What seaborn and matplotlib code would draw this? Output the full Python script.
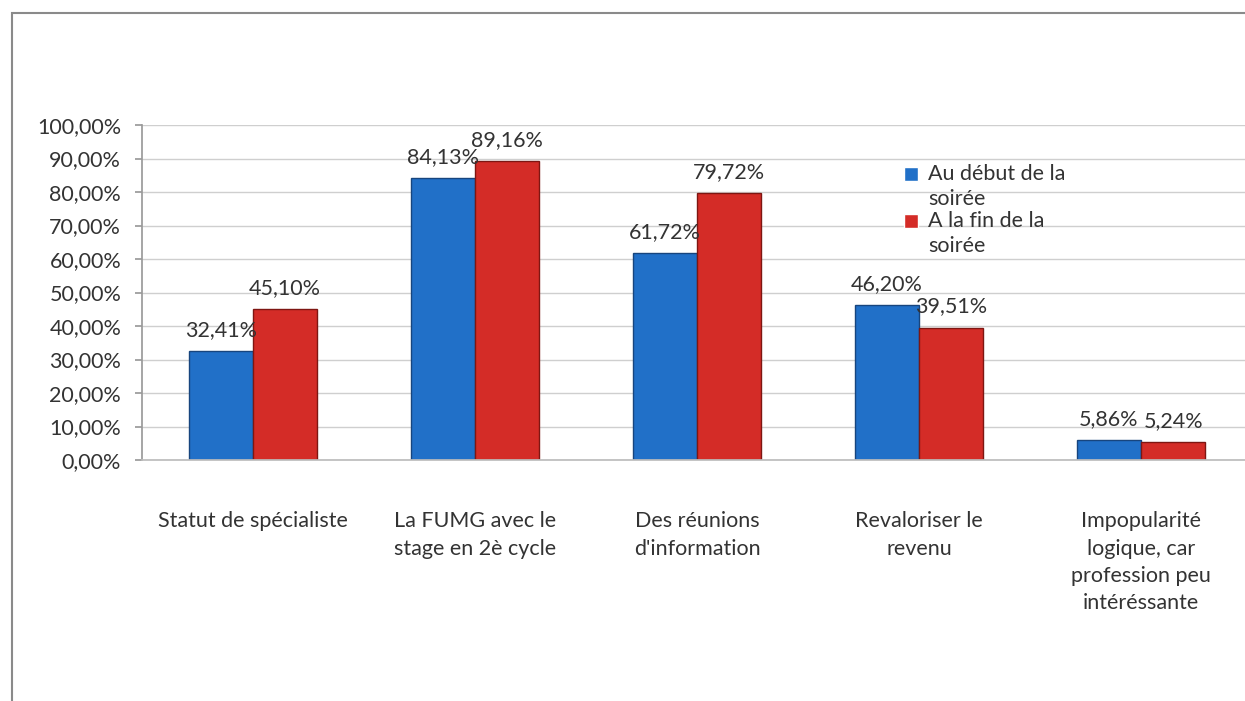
import matplotlib
matplotlib.use("Agg")
import matplotlib.pyplot as plt
import seaborn as sns
import pandas as pd
from matplotlib.patches import Rectangle
from matplotlib.legend_handler import HandlerPatch
from matplotlib.ticker import FuncFormatter, MultipleLocator

categories = [
    "Statut de spécialiste",
    "La FUMG avec le\nstage en 2è cycle",
    "Des réunions\nd'information",
    "Revaloriser le\nrevenu",
    "Impopularité\nlogique, car\nprofession peu\nintéréssante",
]
series_names = ["Au début de la\nsoirée", "A la fin de la\nsoirée"]
debut = [32.41, 84.13, 61.72, 46.20, 5.86]
fin = [45.10, 89.16, 79.72, 39.51, 5.24]

df = pd.DataFrame({
    "cat": categories * 2,
    "serie": [series_names[0]] * 5 + [series_names[1]] * 5,
    "val": debut + fin,
})

sns.set_theme(style="white")
plt.rcParams["font.family"] = ["Lato", "DejaVu Sans"]
FS = 15.5
TXT = "#333333"

fig = plt.figure(figsize=(12.45, 7.01), dpi=100)
ax = fig.add_axes([142 / 1245, 1 - 460 / 701, (1252 - 142) / 1245, 335 / 701])

colors = ["#2170c8", "#d42c27"]
sns.barplot(data=df, x="cat", y="val", hue="serie", palette=colors,
            width=0.58, saturation=1, ax=ax, legend=True)

edge = ["#17457e", "#7e1612"]
for i, cont in enumerate(ax.containers):
    for p in cont:
        p.set_edgecolor(edge[i])
        p.set_linewidth(1.0)
    ax.bar_label(cont, labels=[f"{v:.2f}%".replace(".", ",") for v in cont.datavalues],
                 padding=8, fontsize=FS, color=TXT)

ax.set_ylim(0, 100)
ax.yaxis.set_major_locator(MultipleLocator(10))
ax.yaxis.set_major_formatter(FuncFormatter(lambda v, _: f"{v:.2f}%".replace(".", ",")))
ax.set_xlim(-0.5, 4.5)
ax.grid(axis="y", color="#cfcfcf", linewidth=1)
ax.set_axisbelow(True)
for s in ["top", "right"]:
    ax.spines[s].set_visible(False)
ax.spines["left"].set_color("#9a9a9a")
ax.spines["bottom"].set_color("#bdbdbd")
ax.tick_params(axis="y", labelsize=FS, colors=TXT, length=5, left=True, color="#9a9a9a", pad=10)
ax.tick_params(axis="x", labelsize=FS, colors=TXT, length=0, pad=37)
ax.set_xlabel("")
ax.set_ylabel("")
for t in ax.get_xticklabels():
    t.set_linespacing(1.45)
    t.set_verticalalignment("top")


def top_patch(legend, orig_handle, xdescent, ydescent, width, height, fontsize):
    s = 0.62 * fontsize
    return Rectangle((-xdescent, -ydescent + height - s + 0.55 * fontsize), s, s)


handles, labels = ax.get_legend_handles_labels()
leg = ax.legend(handles, labels, loc="upper left", bbox_to_anchor=(0.679, 0.91), frameon=False,
                fontsize=FS, handlelength=0.7, handleheight=0.7, handletextpad=0.4,
                labelspacing=0.1, borderaxespad=0,
                handler_map={h: HandlerPatch(patch_func=top_patch) for h in handles})
for t in leg.get_texts():
    t.set_color(TXT)
    t.set_linespacing(1.3)

fig.patches.append(Rectangle((12 / 1245, -0.1), 1.2, 1 - 13 / 701 + 0.1,
                             transform=fig.transFigure, fill=False,
                             edgecolor="#8a8a8a", linewidth=1.5))

fig.savefig("out.png", dpi=100)
